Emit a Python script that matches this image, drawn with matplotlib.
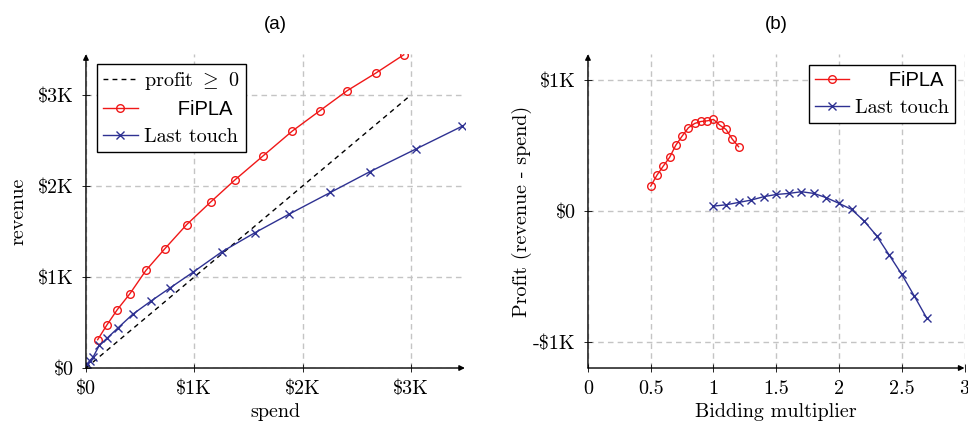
import matplotlib
matplotlib.use("Agg")
import matplotlib.pyplot as plt

# panel (a): revenue vs spend, in $K
fipla_spend = [0.108, 0.191, 0.289, 0.406, 0.554, 0.726, 0.929, 1.151, 1.378, 1.637, 1.905, 2.160, 2.412, 2.677, 2.935]
fipla_revenue = [0.311, 0.469, 0.641, 0.817, 1.073, 1.308, 1.575, 1.824, 2.070, 2.333, 2.604, 2.828, 3.048, 3.242, 3.443]
lt_spend = [0.010, 0.035, 0.065, 0.123, 0.197, 0.298, 0.431, 0.597, 0.775, 0.991, 1.252, 1.560, 1.877, 2.258, 2.622, 3.052, 3.477]
lt_revenue = [0.045, 0.080, 0.118, 0.249, 0.330, 0.443, 0.590, 0.733, 0.879, 1.055, 1.275, 1.487, 1.692, 1.930, 2.158, 2.410, 2.659]
breakeven = [0, 3]

# panel (b): profit vs bidding multiplier, in $K
fipla_mult = [0.5, 0.55, 0.6, 0.65, 0.7, 0.75, 0.8, 0.85, 0.9, 0.95, 1.0, 1.05, 1.1, 1.15, 1.2]
fipla_profit = [0.191, 0.275, 0.344, 0.410, 0.504, 0.573, 0.637, 0.670, 0.685, 0.690, 0.701, 0.657, 0.624, 0.550, 0.492]
lt_mult = [1.0, 1.1, 1.2, 1.3, 1.4, 1.5, 1.6, 1.7, 1.8, 1.9, 2.0, 2.1, 2.2, 2.3, 2.4, 2.5, 2.6, 2.7]
lt_profit = [0.038, 0.048, 0.066, 0.084, 0.110, 0.127, 0.135, 0.148, 0.135, 0.102, 0.059, 0.013, -0.076, -0.189, -0.336, -0.484, -0.650, -0.820]

k_ticks = [0, 1, 2, 3]
k_labels = [r"\$0", r"\$1K", r"\$2K", r"\$3K"]
profit_ticks = [-1, 0, 1]
profit_labels = [r"-\$1K", r"\$0", r"\$1K"]
mult_ticks = [0, 0.5, 1, 1.5, 2, 2.5, 3]
mult_labels = ["0", "0.5", "1", "1.5", "2", "2.5", "3"]

RED = "#f01818"
BLUE = "#2e3192"
FS = 14.5

plt.rcParams["font.family"] = ["cmr10", "DejaVu Serif"]
plt.rcParams["mathtext.fontset"] = "cm"
plt.rcParams["axes.unicode_minus"] = False


def style_axes(ax):
    for side in ["top", "right", "left", "bottom"]:
        ax.spines[side].set_visible(False)
    ax.grid(True, color="#c4c4c4", linestyle=(0, (4, 3)), linewidth=1.0)
    ax.set_axisbelow(True)
    ax.tick_params(direction="inout", length=6, width=0.6, labelsize=FS, pad=6)
    arrow = dict(arrowstyle="-|>", lw=1.0, color="black", mutation_scale=8, shrinkA=0, shrinkB=0)
    ax.annotate("", xy=(1.0, 0), xytext=(0, 0), xycoords="axes fraction", arrowprops=arrow)
    ax.annotate("", xy=(0, 1.0), xytext=(0, 0), xycoords="axes fraction", arrowprops=arrow)


def fix_legend(leg):
    leg.get_frame().set_edgecolor("black")
    leg.get_frame().set_linewidth(1.0)
    for t in leg.get_texts():
        if "FiPLA" in t.get_text():
            t.set_fontfamily("Liberation Sans")


fig = plt.figure(figsize=(9.68, 4.23), dpi=100)
ax1 = fig.add_axes([0.0888, 0.130, 0.3915, 0.742])
ax2 = fig.add_axes([0.6074, 0.130, 0.389, 0.742])

# (a)
ax1.plot(breakeven, breakeven, color="black", linestyle=(0, (3.5, 3)), linewidth=1.0,
         label=r"profit $\geq$ 0")
ax1.plot(fipla_spend, fipla_revenue, color=RED, marker="o", markersize=5.5, markerfacecolor="none",
         markeredgewidth=1.0, linewidth=1.0, label="      FiPLA")
ax1.plot(lt_spend, lt_revenue, color=BLUE, marker="x", markersize=6, markeredgewidth=1.0,
         linewidth=1.0, label="Last touch")
ax1.set_xlim(0, 3.5)
ax1.set_ylim(0, 3.45)
ax1.set_xticks(k_ticks)
ax1.set_xticklabels(k_labels)
ax1.set_yticks(k_ticks)
ax1.set_yticklabels(k_labels)
ax1.set_xlabel("spend", fontsize=FS, labelpad=3)
ax1.set_ylabel("revenue", fontsize=FS, labelpad=7)
ax1.set_title("(a)", fontfamily="Liberation Sans", fontsize=13.5, pad=18)
style_axes(ax1)
leg1 = ax1.legend(loc="upper left", bbox_to_anchor=(0.03, 0.97), fontsize=FS, fancybox=False,
                  framealpha=1, borderpad=0.3, labelspacing=0.42, handlelength=1.7,
                  handletextpad=0.3, borderaxespad=0)
fix_legend(leg1)

# (b)
ax2.plot(fipla_mult, fipla_profit, color=RED, marker="o", markersize=5.5, markerfacecolor="none",
         markeredgewidth=1.0, linewidth=1.0, label="      FiPLA")
ax2.plot(lt_mult, lt_profit, color=BLUE, marker="x", markersize=6, markeredgewidth=1.0,
         linewidth=1.0, label="Last touch")
ax2.set_xlim(0, 3)
ax2.set_ylim(-1.2, 1.2)
ax2.set_xticks(mult_ticks)
ax2.set_xticklabels(mult_labels)
ax2.set_yticks(profit_ticks)
ax2.set_yticklabels(profit_labels)
ax2.set_xlabel("Bidding multiplier", fontsize=FS, labelpad=3)
ax2.set_ylabel("Profit (revenue - spend)", fontsize=FS, labelpad=0.5)
ax2.set_title("(b)", fontfamily="Liberation Sans", fontsize=13.5, pad=18)
style_axes(ax2)
leg2 = ax2.legend(loc="upper right", bbox_to_anchor=(0.975, 0.965), fontsize=FS, fancybox=False,
                  framealpha=1, borderpad=0.3, labelspacing=0.42, handlelength=1.7,
                  handletextpad=0.3, borderaxespad=0)
fix_legend(leg2)

fig.savefig("out.png", dpi=100)
